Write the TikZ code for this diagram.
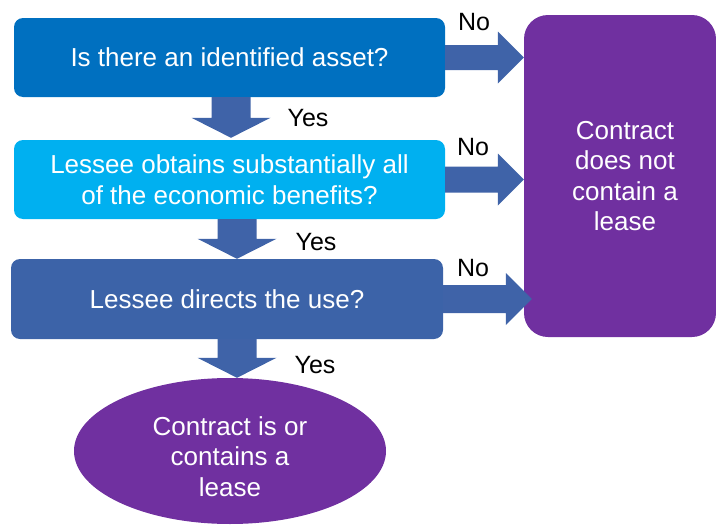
\documentclass[tikz,border=0pt]{standalone}
\usepackage{fontspec}
\setmainfont{Liberation Sans}
\usetikzlibrary{calc,shapes.geometric}
\definecolor{boxa}{HTML}{0070C0}
\definecolor{boxb}{HTML}{00B0F0}
\definecolor{boxc}{HTML}{3C63A8}
\definecolor{arrc}{HTML}{3F63A8}
\definecolor{purp}{HTML}{7030A0}
\newcommand{\fatdown}[2]{\fill[arrfill] ($(#1)+(-19.5,0)$) -- ($(#2)+(-19.5,-20)$) -- ($(#2)+(-39.5,-20)$) -- (#2) -- ($(#2)+(39.5,-20)$) -- ($(#2)+(19.5,-20)$) -- ($(#1)+(19.5,0)$) -- cycle;}
\newcommand{\fatright}[3]{\fill[arrfill] ($(#1)+(0,-#3)$) -- ($(#2)+(-26,-#3)$) -- ($(#2)+(-26,-26)$) -- (#2) -- ($(#2)+(-26,26)$) -- ($(#2)+(-26,#3)$) -- ($(#1)+(0,#3)$) -- cycle;}
\newcommand{\rsh}{\hspace*{10pt}}
\begin{document}
\begin{tikzpicture}[x=1pt,y=-1pt,
  qbox/.style={rectangle, rounded corners=9pt, minimum width=431pt, minimum height=79pt, inner sep=0pt, text=white, align=center, font=\fontsize{26}{30.5}\selectfont},
  arrfill/.style={fill=arrc},
  lbl/.style={inner sep=0pt, text=black, font=\fontsize{25}{30}\selectfont},
  endtext/.style={text=white, align=center, inner sep=0pt, font=\fontsize{26}{30.5}\selectfont}]
\useasboundingbox (0,0) rectangle (716,525);
\node[qbox, fill=boxa] (b1) at (229.5,57.5) {Is there an identified asset?};
\node[qbox, fill=boxb] (b2) at (229.5,179.5) {Lessee obtains substantially all\\of the economic benefits?};
\node[qbox, fill=boxc, minimum width=432pt, minimum height=80pt] (b3) at (227,299) {Lessee directs the use?};
\node[endtext, fill=purp, rectangle, rounded corners=24pt, minimum width=192pt, minimum height=322pt] (r) at (620,176) {\rsh Contract\\\rsh does not\\\rsh contain a\\\rsh lease};
\node[endtext, fill=purp, ellipse, minimum width=312pt, minimum height=146pt] (e) at (230,451) {\rule{0pt}{30pt}Contract is or\\contains a\\lease};
% down arrows
\coordinate (d1s) at ($(b1.south)+(1.5,0)$);
\coordinate (d1t) at ($(d1s |- b2.north)+(0,-2)$);
\coordinate (d2s) at ($(b2.south)+(7.5,0)$);
\coordinate (d2t) at (d2s |- b3.north);
\coordinate (d3s) at ($(b3.south)+(10,0)$);
\coordinate (d3t) at (d3s |- e.north);
\fatdown{d1s}{d1t}
\fatdown{d2s}{d2t}
\fatdown{d3s}{d3t}
% right arrows
\coordinate (r1t) at (r.west |- b1.east);
\coordinate (r2t) at (r.west |- b2.east);
\coordinate (r3t) at ($(r.west |- b3.east)+(8,0)$);
\fatright{b1.east}{r1t}{12.5}
\fatright{b2.east}{r2t}{13}
\fatright{b3.east}{r3t}{14}
% labels
\node[lbl] (nA) at (474,22) {No};
\node[lbl] (nB) at (473,147) {No};
\node[lbl] (nC) at (473,268) {No};
\node[lbl] (yA) at (308,118) {Yes};
\node[lbl] (yB) at (316,242) {Yes};
\node[lbl] (yC) at (315,365) {Yes};
\end{tikzpicture}
\end{document}
